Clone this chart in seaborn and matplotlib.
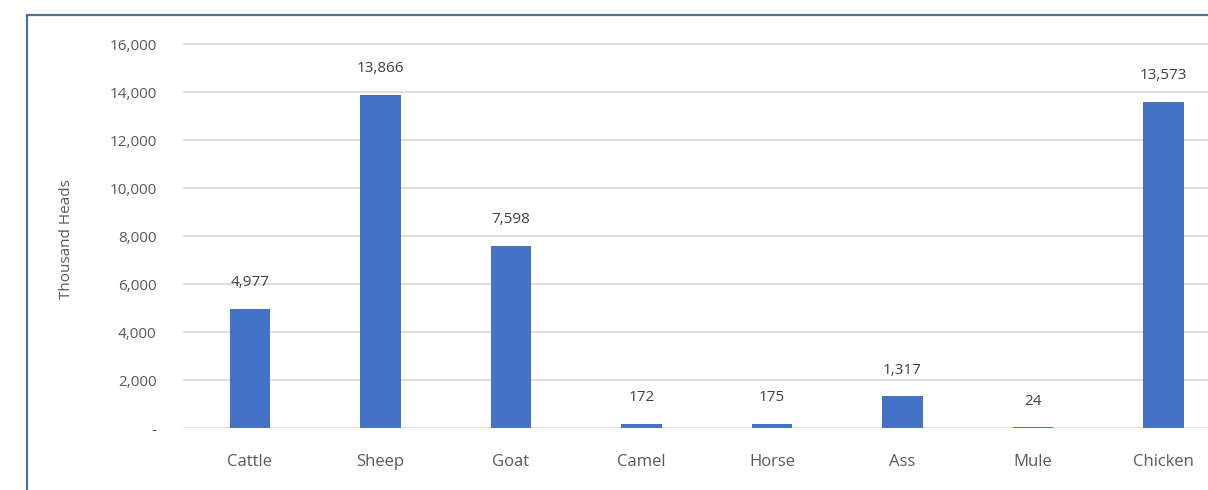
import matplotlib
matplotlib.use("Agg")
import matplotlib.pyplot as plt
import seaborn as sns
import pandas as pd
from matplotlib.lines import Line2D
from matplotlib.ticker import FuncFormatter

categories = ["Cattle", "Sheep", "Goat", "Camel", "Horse", "Ass", "Mule", "Chicken"]
values = [4977, 13866, 7598, 172, 175, 1317, 24, 13573]
yticks = [0, 2000, 4000, 6000, 8000, 10000, 12000, 14000, 16000]

sns.set_theme(style="white")
plt.rcParams['font.family'] = ['Open Sans', 'DejaVu Sans']

df = pd.DataFrame({"Animal": categories, "Heads": values})

fig = plt.figure(figsize=(12.08, 4.9), dpi=100)
W, H = 1208, 490
ax = fig.add_axes([183 / W, 62 / H, 1025 / W, 393.6 / H])

sns.barplot(data=df, x="Animal", y="Heads", color="#4472C4", width=0.31,
            saturation=1, ax=ax, zorder=3, linewidth=0)

ax.set_xlim(-0.513, 7.341)
ax.set_ylim(0, 16400)
ax.set_yticks(yticks)
ax.yaxis.set_major_formatter(FuncFormatter(lambda v, p: "-" if v == 0 else f"{int(v):,}"))
ax.grid(axis="y", color="#d9d9d9", linewidth=1.2, zorder=0)
ax.grid(axis="x", visible=False)
for s in ax.spines.values():
    s.set_visible(False)

ax.tick_params(axis="y", length=0, pad=19, labelsize=11, labelcolor="#595959")
ax.tick_params(axis="x", length=0, pad=19, labelsize=12, labelcolor="#595959")
ax.set_xlabel("")
ax.set_ylabel("Thousand Heads", fontsize=11, color="#595959")
ax.yaxis.set_label_coords(-0.106, 0.48)

for i, v in enumerate(values):
    ax.annotate(f"{v:,}", xy=(i, v), xytext=(0, 19), textcoords="offset points",
                ha="center", va="center", fontsize=11, color="#404040")

# outer frame (cropped chart border)
fig.add_artist(Line2D([27 / W, 27 / W], [0, 1 - 15 / H], transform=fig.transFigure,
                      color="#4f6f9f", linewidth=1.6))
fig.add_artist(Line2D([27 / W, 1], [1 - 15 / H, 1 - 15 / H], transform=fig.transFigure,
                      color="#4f6f9f", linewidth=1.6))

fig.savefig("out.png", dpi=100)
